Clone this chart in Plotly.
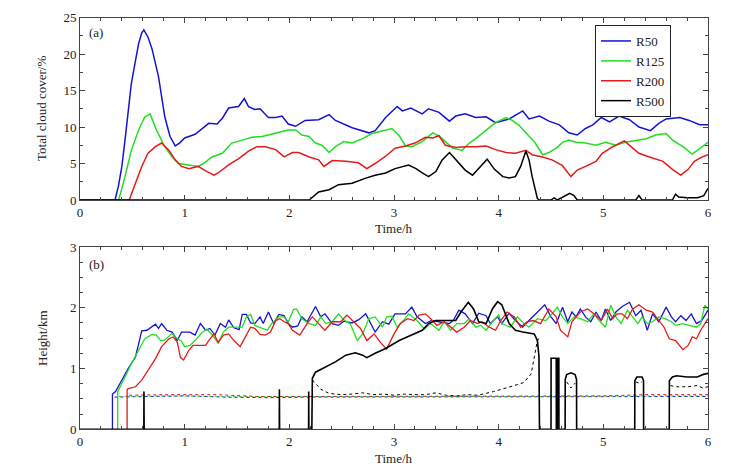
import plotly.graph_objects as go

# ---- panel (a): total cloud cover (%) ----
t_a_r50 = [0, 0.335, 0.367, 0.40, 0.43, 0.46, 0.49, 0.53, 0.56, 0.59, 0.61, 0.65, 0.69, 0.75, 0.78,
           0.81, 0.86, 0.91, 0.95, 1.0, 1.1, 1.17, 1.23, 1.31, 1.36, 1.42, 1.515, 1.57, 1.61, 1.67,
           1.72, 1.8, 1.87, 1.93, 1.99, 2.06, 2.15, 2.28, 2.38, 2.44, 2.6, 2.76, 2.82, 2.92, 3.03,
           3.08, 3.16, 3.27, 3.33, 3.43, 3.53, 3.59, 3.68, 3.78, 3.88, 3.97, 4.1, 4.23, 4.29, 4.39,
           4.48, 4.58, 4.67, 4.75, 4.83, 4.9, 4.98, 5.06, 5.15, 5.25, 5.34, 5.45, 5.53, 5.6, 5.73,
           5.82, 5.92, 6.0]
cc_r50 = [0, 0, 1.9, 4.6, 8.2, 12.3, 15.9, 19.1, 21.4, 22.9, 23.3, 22.3, 20.6, 16.9, 14.4,
          11.4, 8.7, 7.4, 7.8, 8.5, 9.0, 9.8, 10.5, 10.4, 11.2, 12.6, 12.8, 13.9, 12.8, 12.4,
          12.5, 11.3, 11.3, 11.5, 10.4, 10.1, 10.9, 11.0, 11.7, 10.9, 9.9, 9.2, 9.5, 11.3, 12.8,
          12.2, 12.6, 11.8, 12.5, 12.0, 10.8, 11.5, 11.8, 11.3, 11.4, 10.6, 11.1, 12.2, 11.1, 11.5,
          10.8, 10.3, 9.2, 8.9, 9.8, 10.3, 11.3, 10.7, 11.5, 11.0, 10.0, 9.5, 10.5, 11.1, 11.3,
          10.9, 10.3, 10.3]

t_a_r125 = [0, 0.37, 0.43, 0.49, 0.56, 0.62, 0.67, 0.73, 0.81, 0.88, 0.94, 1.0, 1.13, 1.18, 1.26,
            1.36, 1.45, 1.55, 1.64, 1.74, 1.8, 1.9, 1.99, 2.06, 2.12, 2.19, 2.25, 2.31, 2.38, 2.44,
            2.52, 2.6, 2.7, 2.79, 2.89, 2.98, 3.05, 3.11, 3.17, 3.27, 3.37, 3.43, 3.49, 3.56, 3.65,
            3.72, 3.78, 3.88, 3.97, 4.07, 4.13, 4.19, 4.29, 4.35, 4.42, 4.48, 4.55, 4.61, 4.67, 4.74,
            4.83, 4.93, 5.02, 5.12, 5.21, 5.31, 5.41, 5.5, 5.6, 5.66, 5.76, 5.85, 5.92, 6.0]
cc_r125 = [0, 0, 3.2, 6.8, 9.6, 11.4, 11.8, 9.6, 7.3, 5.9, 5.0, 4.9, 4.6, 5.0, 5.9,
           6.4, 7.8, 8.2, 8.6, 8.7, 8.9, 9.2, 9.6, 9.6, 8.9, 8.7, 7.8, 7.5, 6.5, 7.3,
           8.0, 7.8, 8.4, 9.1, 9.5, 9.8, 8.8, 7.4, 7.3, 8.0, 9.2, 8.8, 8.0, 7.1, 6.8,
           7.8, 8.4, 9.6, 10.6, 11.3, 10.9, 10.3, 8.7, 7.8, 6.2, 6.5, 7.1, 7.9, 8.2, 7.9,
           7.8, 7.5, 7.9, 7.5, 7.9, 8.1, 8.4, 8.9, 9.1, 8.2, 7.3, 6.3, 7.1, 7.9]

t_a_r200 = [0, 0.47, 0.53, 0.59, 0.65, 0.72, 0.78, 0.85, 0.91, 0.97, 1.04, 1.13, 1.2, 1.28, 1.32,
            1.42, 1.52, 1.61, 1.69, 1.77, 1.87, 1.95, 2.03, 2.09, 2.19, 2.28, 2.33, 2.41, 2.54, 2.66,
            2.74, 2.82, 2.92, 3.01, 3.11, 3.2, 3.3, 3.37, 3.43, 3.49, 3.59, 3.68, 3.78, 3.88, 3.97,
            4.07, 4.16, 4.26, 4.32, 4.42, 4.51, 4.61, 4.69, 4.75, 4.83, 4.93, 4.99, 5.09, 5.2, 5.25,
            5.34, 5.44, 5.57, 5.66, 5.74, 5.81, 5.87, 5.93, 6.0]
cc_r200 = [0, 0, 2.3, 4.6, 6.4, 7.3, 7.8, 6.8, 5.5, 4.6, 4.3, 4.6, 4.0, 3.4, 3.7,
           4.8, 5.7, 6.7, 7.3, 7.3, 6.9, 5.9, 6.5, 6.5, 5.9, 5.5, 4.6, 5.4, 5.3, 5.1,
           4.3, 5.0, 6.0, 7.1, 7.4, 7.8, 8.6, 8.5, 8.8, 7.5, 7.2, 7.3, 7.3, 7.4, 6.9,
           6.5, 6.4, 6.8, 6.2, 5.9, 5.5, 4.7, 3.2, 4.1, 4.6, 5.3, 6.4, 7.3, 8.1, 7.5,
           6.4, 5.9, 5.3, 4.2, 3.4, 4.2, 5.3, 5.8, 6.2]

t_a_r500 = [0, 2.19, 2.28, 2.38, 2.47, 2.6, 2.73, 2.82, 2.92, 3.01, 3.14, 3.21, 3.27, 3.33, 3.4,
            3.46, 3.53, 3.59, 3.68, 3.75, 3.81, 3.89, 3.96, 4.04, 4.1, 4.16, 4.21, 4.26, 4.29, 4.32,
            4.37, 4.39, 4.5, 4.53, 4.56, 4.64, 4.68, 4.72, 4.75, 5.31, 5.34, 5.37, 5.66, 5.69, 5.72,
            5.8, 5.9, 5.96, 6.0]
cc_r500 = [0, 0, 1.1, 1.4, 2.1, 2.3, 3.0, 3.4, 3.7, 4.3, 4.8, 4.3, 3.7, 3.2, 3.9,
           5.5, 6.5, 5.5, 4.1, 3.4, 4.3, 5.6, 4.2, 3.2, 3.0, 3.2, 4.6, 6.7, 5.5, 3.2,
           0.2, 0, 0, 0.3, 0, 0.6, 0.9, 0.6, 0, 0, 0.6, 0, 0, 0.8, 0.4,
           0.3, 0.3, 0.6, 1.6]

# ---- panel (b): cloud top (solid) and cloud base (dotted) height, km ----
t_b_r50 = [0.31, 0.31, 0.34, 0.40, 0.46, 0.53, 0.59, 0.64, 0.72, 0.75, 0.78, 0.83, 0.88, 0.93, 0.97,
           1.05, 1.10, 1.15, 1.20, 1.24, 1.29, 1.34, 1.39, 1.42, 1.47, 1.52, 1.55, 1.59, 1.63, 1.67,
           1.72, 1.75, 1.80, 1.85, 1.90, 1.95, 1.99, 2.03, 2.08, 2.12, 2.17, 2.25, 2.30, 2.34, 2.41,
           2.47, 2.52, 2.60, 2.66, 2.73, 2.78, 2.82, 2.89, 2.95, 3.01, 3.11, 3.17, 3.22, 3.30, 3.36,
           3.43, 3.53, 3.57, 3.62, 3.68, 3.75, 3.81, 3.88, 3.92, 3.99, 4.03, 4.10, 4.16, 4.23, 4.29,
           4.37, 4.44, 4.50, 4.55, 4.61, 4.66, 4.70, 4.74, 4.78, 4.83, 4.88, 4.93, 4.98, 5.02, 5.07,
           5.12, 5.18, 5.25, 5.31, 5.36, 5.42, 5.47, 5.53, 5.60, 5.65, 5.69, 5.74, 5.79, 5.84, 5.89,
           5.94, 6.0]
top_r50 = [0, 0.58, 0.62, 0.81, 1.0, 1.19, 1.62, 1.63, 1.73, 1.66, 1.74, 1.63, 1.60, 1.46, 1.60,
           1.60, 1.55, 1.74, 1.63, 1.66, 1.55, 1.74, 1.68, 1.80, 1.67, 1.64, 1.89, 1.89, 1.75, 1.74,
           1.85, 1.74, 1.93, 1.74, 1.89, 1.87, 1.74, 1.68, 1.70, 1.85, 1.77, 2.02, 1.85, 1.90, 1.74,
           1.71, 1.78, 1.75, 1.80, 1.90, 1.74, 1.60, 1.77, 1.73, 1.90, 1.90, 2.01, 1.85, 1.74, 1.79,
           1.77, 1.74, 1.80, 1.96, 1.90, 1.74, 1.91, 1.87, 1.74, 1.85, 1.74, 1.91, 1.79, 1.68, 1.79,
           1.93, 2.05, 1.85, 1.74, 2.01, 1.77, 1.93, 1.85, 1.98, 1.85, 1.77, 1.93, 1.79, 1.98, 1.79,
           1.93, 2.02, 2.09, 1.87, 1.96, 1.63, 1.90, 1.77, 2.01, 1.85, 1.77, 1.87, 1.79, 1.90, 1.74,
           1.79, 1.96]

t_b_r125 = [0.36, 0.36, 0.43, 0.49, 0.56, 0.62, 0.69, 0.73, 0.77, 0.81, 0.88, 0.93, 0.97, 1.0, 1.05,
            1.10, 1.16, 1.21, 1.26, 1.32, 1.37, 1.42, 1.48, 1.55, 1.59, 1.63, 1.67, 1.72, 1.79, 1.83,
            1.90, 1.95, 1.99, 2.04, 2.07, 2.12, 2.19, 2.25, 2.30, 2.35, 2.41, 2.47, 2.52, 2.58, 2.65,
            2.70, 2.76, 2.82, 2.89, 2.93, 2.98, 3.03, 3.09, 3.14, 3.22, 3.29, 3.35, 3.43, 3.48, 3.54,
            3.60, 3.67, 3.72, 3.78, 3.83, 3.88, 3.94, 4.00, 4.03, 4.11, 4.18, 4.24, 4.29, 4.37, 4.45,
            4.51, 4.56, 4.61, 4.66, 4.72, 4.78, 4.85, 4.91, 4.96, 5.02, 5.07, 5.12, 5.17, 5.23, 5.28,
            5.33, 5.37, 5.42, 5.47, 5.53, 5.59, 5.65, 5.69, 5.76, 5.82, 5.89, 5.93, 5.97, 6.0]
top_r125 = [0, 0.62, 0.86, 1.08, 1.30, 1.49, 1.56, 1.55, 1.46, 1.47, 1.58, 1.49, 1.45, 1.36, 1.38,
            1.46, 1.58, 1.65, 1.56, 1.42, 1.60, 1.68, 1.68, 1.68, 1.85, 1.89, 1.71, 1.68, 1.63, 1.74,
            1.85, 1.85, 1.77, 1.97, 1.98, 1.82, 1.74, 1.71, 1.85, 1.74, 1.77, 1.90, 1.80, 1.74, 1.46,
            1.57, 1.82, 1.85, 1.68, 1.85, 1.86, 1.68, 1.79, 1.90, 1.79, 1.65, 1.74, 1.63, 1.77, 1.63,
            1.74, 1.74, 1.82, 1.68, 1.71, 1.63, 1.77, 1.88, 1.74, 1.68, 1.85, 1.74, 1.68, 1.82, 1.79,
            1.90, 2.01, 1.85, 1.74, 1.85, 1.82, 1.77, 1.90, 1.79, 1.68, 2.04, 1.85, 1.74, 1.96, 1.85,
            1.74, 1.85, 1.74, 1.77, 1.85, 1.82, 1.77, 1.71, 1.74, 1.71, 1.68, 1.74, 2.04, 1.98]

t_b_r200 = [0.45, 0.45, 0.46, 0.53, 0.59, 0.65, 0.72, 0.78, 0.85, 0.89, 0.93, 0.96, 0.99, 1.04, 1.08,
            1.20, 1.23, 1.28, 1.32, 1.37, 1.42, 1.47, 1.53, 1.58, 1.63, 1.67, 1.72, 1.77, 1.82, 1.87,
            1.91, 1.95, 1.99, 2.03, 2.10, 2.17, 2.22, 2.28, 2.34, 2.41, 2.49, 2.55, 2.62, 2.68, 2.74,
            2.81, 2.87, 2.93, 3.00, 3.06, 3.13, 3.19, 3.24, 3.30, 3.35, 3.41, 3.48, 3.54, 3.60, 3.67,
            3.73, 3.80, 3.84, 3.91, 3.97, 4.02, 4.08, 4.15, 4.21, 4.27, 4.33, 4.40, 4.48, 4.55, 4.59,
            4.66, 4.70, 4.78, 4.85, 4.91, 4.98, 5.04, 5.09, 5.13, 5.18, 5.23, 5.28, 5.34, 5.41, 5.47,
            5.52, 5.58, 5.63, 5.69, 5.76, 5.81, 5.85, 5.89, 5.93, 6.0]
top_r200 = [0, 0.65, 0.67, 0.70, 0.81, 0.97, 1.16, 1.36, 1.49, 1.52, 1.43, 1.18, 1.14, 1.30, 1.38,
            1.38, 1.46, 1.57, 1.43, 1.55, 1.57, 1.46, 1.36, 1.52, 1.68, 1.66, 1.56, 1.55, 1.60, 1.79,
            1.82, 1.77, 1.74, 1.63, 1.55, 1.74, 1.85, 1.74, 1.63, 1.77, 1.77, 1.88, 1.77, 1.66, 1.46,
            1.57, 1.43, 1.32, 1.57, 1.74, 1.82, 1.79, 1.88, 1.90, 1.82, 1.71, 1.77, 1.68, 1.60, 1.68,
            1.79, 1.74, 1.77, 1.68, 1.63, 1.79, 1.93, 1.85, 1.68, 1.77, 1.79, 1.74, 1.98, 1.85, 1.63,
            1.52, 1.77, 1.93, 1.98, 1.90, 1.79, 1.98, 1.82, 1.90, 1.90, 1.82, 1.98, 2.05, 1.96, 1.93,
            1.82, 1.68, 1.49, 1.46, 1.31, 1.38, 1.52, 1.49, 1.63, 1.82]

t_b_r500 = [0, 0.610, 0.611, 0.613, 1.904, 1.905, 1.907, 2.184, 2.185, 2.187, 2.215, 2.216, 2.22,
            2.25, 2.34, 2.44, 2.54, 2.63, 2.70, 2.74, 2.82, 2.92, 3.05, 3.17, 3.27, 3.33, 3.40, 3.59,
            3.64, 3.71, 3.76, 3.81, 3.88, 3.94, 3.99, 4.03, 4.10, 4.16, 4.23, 4.34, 4.37, 4.385, 4.39,
            4.50, 4.501, 4.55, 4.551, 4.56, 4.561, 4.575, 4.576, 4.635, 4.636, 4.65, 4.69, 4.73,
            4.744, 4.745, 5.30, 5.301, 5.32, 5.37, 5.384, 5.385, 5.63, 5.631, 5.66, 5.70, 5.80, 5.90,
            5.95, 6.0]
top_r500 = [0, 0, 0.62, 0, 0, 0.66, 0, 0, 0.62, 0, 0, 0.81, 0.84,
            0.94, 1.02, 1.11, 1.22, 1.26, 1.22, 1.18, 1.25, 1.33, 1.46, 1.55, 1.63, 1.74, 1.79, 1.79,
            1.93, 2.09, 1.98, 1.77, 1.74, 1.98, 2.10, 2.05, 1.74, 1.63, 1.60, 1.57, 1.46, 1.20, 0,
            0, 1.17, 1.17, 0, 0, 1.17, 1.17, 0, 0, 0.82, 0.90, 0.93, 0.90,
            0.82, 0, 0, 0.80, 0.86, 0.86, 0.80, 0, 0, 0.80, 0.86, 0.88, 0.86, 0.86,
            0.90, 0.92]

t_base_r50 = [0.33, 0.6, 1.0, 1.4, 1.8, 2.2, 2.6, 3.0, 3.4, 3.8, 4.2, 4.6, 5.0, 5.4, 5.8, 6.0]
base_r50 = [0.53, 0.54, 0.55, 0.53, 0.52, 0.53, 0.53, 0.54, 0.53, 0.53, 0.53, 0.53, 0.53, 0.54, 0.54, 0.54]
t_base_r125 = [0.37, 0.8, 1.5, 2.5, 3.5, 4.5, 5.5, 6.0]
base_r125 = [0.54, 0.55, 0.54, 0.54, 0.53, 0.54, 0.55, 0.55]
t_base_r200 = [0.47, 0.8, 1.3, 1.7, 2.3, 3.0, 3.7, 4.4, 5.0, 5.4, 6.0]
base_r200 = [0.56, 0.57, 0.57, 0.54, 0.54, 0.54, 0.55, 0.54, 0.55, 0.57, 0.57]
t_base_r500 = [2.22, 2.25, 2.30, 2.38, 2.5, 2.6, 2.7, 2.8, 2.9, 3.0, 3.1, 3.2, 3.3, 3.4, 3.5, 3.6,
               3.7, 3.8, 3.95, 4.15, 4.24, 4.31, 4.35, 4.37, 4.385, None, 4.65, 4.69, 4.73, None,
               5.31, 5.34, 5.37, None, 5.64, 5.7, 5.8, 5.9, 5.95, 6.0]
base_r500 = [0.81, 0.75, 0.66, 0.59, 0.57, 0.58, 0.60, 0.57, 0.58, 0.56, 0.58, 0.57, 0.57, 0.60, 0.56, 0.55,
             0.57, 0.56, 0.62, 0.72, 0.77, 0.91, 1.29, 1.46, 1.50, None, 0.78, 0.68, 0.76, None,
             0.78, 0.76, 0.78, None, 0.72, 0.70, 0.70, 0.72, 0.68, 0.70]

names = ["R50", "R125", "R200", "R500"]
colors = ["#1414d2", "#22dd22", "#e51a1a", "#000000"]

FONT = "Liberation Serif, Times New Roman, serif"
W, H = 743, 473
PAGE_OFFSET = 8  # default body margin of the html page

fig = go.Figure()

top_a = [(t_a_r50, cc_r50), (t_a_r125, cc_r125), (t_a_r200, cc_r200), (t_a_r500, cc_r500)]
for (tt, vv), name, col in zip(top_a, names, colors):
    fig.add_trace(go.Scatter(x=tt, y=vv, mode="lines", name=name,
                             line=dict(color=col, width=1.5), xaxis="x", yaxis="y"))

bases = [(t_base_r50, base_r50), (t_base_r125, base_r125), (t_base_r200, base_r200)]
for (tt, vv), col in zip(bases, colors[:3]):
    fig.add_trace(go.Scatter(x=tt, y=vv, mode="lines", showlegend=False,
                             line=dict(color=col, width=1, dash="dot"), xaxis="x2", yaxis="y2"))
fig.add_trace(go.Scatter(x=t_base_r500, y=base_r500, mode="lines", showlegend=False,
                         line=dict(color="black", width=1, dash="dot"), xaxis="x2", yaxis="y2"))

tops = [(t_b_r50, top_r50), (t_b_r125, top_r125), (t_b_r200, top_r200)]
for (tt, vv), col in zip(tops, colors[:3]):
    fig.add_trace(go.Scatter(x=tt, y=vv, mode="lines", showlegend=False,
                             line=dict(color=col, width=1.3), xaxis="x2", yaxis="y2"))
fig.add_trace(go.Scatter(x=t_b_r500, y=top_r500, mode="lines", showlegend=False,
                         line=dict(color="black", width=1.6), xaxis="x2", yaxis="y2"))

# pixel positions on the page -> paper fractions
def xpx(p):
    return (p - PAGE_OFFSET) / W

def ypx(p):
    return 1 - (p - PAGE_OFFSET) / H

axis_common = dict(showline=True, linecolor="#444", linewidth=1, mirror="ticks",
                   ticks="inside", ticklen=5, tickcolor="#444", showgrid=False, zeroline=False,
                   automargin=False,
                   tickfont=dict(family=FONT, size=13, color="#222"))

xdom = [xpx(80), xpx(708)]
fig.update_layout(
    template="none",
    width=W, height=H,
    margin=dict(l=0, r=0, t=0, b=0, pad=0, autoexpand=False),
    paper_bgcolor="white", plot_bgcolor="white",
    font=dict(family=FONT, size=13, color="#222"),
    xaxis=dict(domain=xdom, anchor="y", range=[0, 6], dtick=1,
               minor=dict(dtick=0.2, ticks="inside", ticklen=3, tickcolor="#444"), **axis_common),
    yaxis=dict(domain=[ypx(200), ypx(17.5)], anchor="x", range=[0, 25], dtick=5,
               minor=dict(dtick=2.5, ticks="inside", ticklen=3, tickcolor="#444"), **axis_common),
    xaxis2=dict(domain=xdom, anchor="y2", range=[0, 6], dtick=1,
                minor=dict(dtick=0.2, ticks="inside", ticklen=3, tickcolor="#444"), **axis_common),
    yaxis2=dict(domain=[ypx(429.3), ypx(247)], anchor="x2", range=[0, 3], dtick=1,
                minor=dict(dtick=0.25, ticks="inside", ticklen=3, tickcolor="#444"), **axis_common),
    legend=dict(x=xpx(595), y=ypx(25), xanchor="left", yanchor="top",
                bordercolor="#222", borderwidth=1, bgcolor="white",
                font=dict(family=FONT, size=13, color="#222"), tracegroupgap=0),
    showlegend=True,
)

notes = [
    dict(text="(a)", x=xpx(96), y=ypx(32)),
    dict(text="(b)", x=xpx(96), y=ypx(264)),
    dict(text="Time/h", x=xpx(394), y=ypx(229)),
    dict(text="Time/h", x=xpx(394), y=ypx(458)),
    dict(text="Total cloud cover/%", x=xpx(42), y=ypx(109), textangle=-90),
    dict(text="Height/km", x=xpx(42), y=ypx(338), textangle=-90),
]
for n in notes:
    fig.add_annotation(xref="paper", yref="paper", showarrow=False,
                       xanchor="center", yanchor="middle",
                       font=dict(family=FONT, size=13, color="#222"), **n)

fig.write_html("out.html")
